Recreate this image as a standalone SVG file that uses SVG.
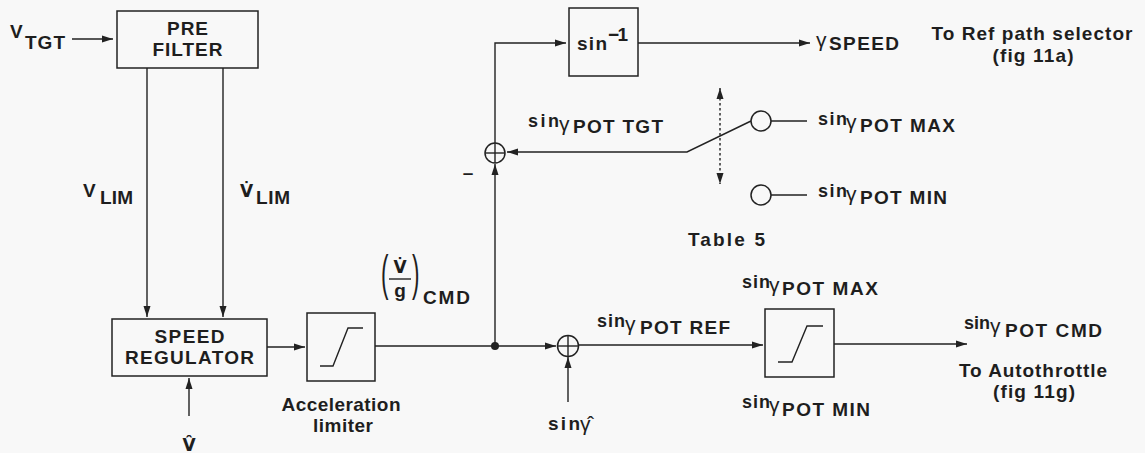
<svg xmlns="http://www.w3.org/2000/svg" width="1145" height="453" viewBox="0 0 1145 453">
<defs>
<style>
.t{font-family:"Liberation Sans",Arial,Helvetica,sans-serif;font-weight:bold;font-size:19px;fill:#1e1e1e}
.s{font-size:18px}
.n{font-family:"Liberation Sans",Arial,Helvetica,sans-serif;font-weight:normal;fill:#1e1e1e}
.d{font-family:"DejaVu Sans",sans-serif;font-weight:bold;font-size:17px;fill:#1e1e1e}
.gm{font-family:"Liberation Sans",Arial,sans-serif;font-weight:normal;font-size:21px;fill:#1e1e1e}
.m{text-anchor:middle}
.box{fill:none;stroke:#222;stroke-width:1.5}
.ln{fill:none;stroke:#222;stroke-width:1.4}
.arr{marker-end:url(#ah)}
.dot{stroke-dasharray:2.5 2.5}
</style>
<marker id="ah" markerWidth="12" markerHeight="8" refX="11" refY="4" orient="auto-start-reverse" markerUnits="userSpaceOnUse">
<path d="M0,0.5 L11,4 L0,7.5 z" fill="#222"/>
</marker>
</defs>
<rect x="0" y="0" width="1145" height="453" fill="#f8f8f8"/>

<g id="connectors">
<line class="ln arr" x1="72" y1="39" x2="113" y2="39"/>
<line class="ln arr" x1="147" y1="68" x2="147" y2="317"/>
<line class="ln arr" x1="223" y1="68" x2="223" y2="317"/>
<line class="ln arr" x1="189" y1="416" x2="189" y2="378"/>
<line class="ln arr" x1="267" y1="347" x2="305" y2="347"/>
<polyline class="ln" points="375,346 495,346"/>
<line class="ln arr" x1="495" y1="346" x2="556" y2="346"/>
<line class="ln arr" x1="495" y1="346" x2="495" y2="164"/>
<polyline class="ln arr" points="495,143 495,43 566,43"/>
<line class="ln arr" x1="638" y1="43" x2="810" y2="43"/>
<line class="ln arr" x1="568" y1="402" x2="568" y2="357"/>
<line class="ln arr" x1="578.5" y1="345" x2="763" y2="345"/>
<line class="ln arr" x1="834" y1="344" x2="967" y2="344"/>
<polyline class="ln arr" points="751,121 687,152 507,152"/>
<line class="ln" x1="771" y1="121" x2="807" y2="121"/>
<line class="ln" x1="771" y1="195" x2="807" y2="195"/>
<line class="ln dot" x1="720" y1="88" x2="720" y2="184" style="marker-start:url(#ah);marker-end:url(#ah)"/>
</g>

<g id="prefilter">
<rect class="box" x="117" y="11" width="141" height="57"/>
<text class="t m" x="187.5" y="35" textLength="41" lengthAdjust="spacing">PRE</text>
<text class="t m" x="187.5" y="56" textLength="70" lengthAdjust="spacing">FILTER</text>
</g>

<g id="speed-regulator">
<rect class="box" x="112" y="319" width="155" height="57"/>
<text class="t m" x="189.5" y="343" textLength="70" lengthAdjust="spacing">SPEED</text>
<text class="t m" x="189.5" y="364" textLength="129" lengthAdjust="spacing">REGULATOR</text>
</g>

<g id="acceleration-limiter">
<rect class="box" x="307" y="313" width="68" height="68"/>
<polyline class="ln" points="320,366 333,366 348,328 363,328"/>
<text class="t m" x="341" y="411" textLength="119" lengthAdjust="spacing">Acceleration</text>
<text class="t m" x="343" y="432" textLength="60" lengthAdjust="spacing">limiter</text>
</g>

<g id="junction">
<circle cx="495" cy="346" r="4" fill="#222"/>
</g>

<g id="sum-upper">
<circle class="box" cx="495" cy="153" r="10"/>
<line class="ln" x1="485" y1="153" x2="505" y2="153"/>
<line class="ln" x1="495" y1="143" x2="495" y2="163"/>
<text class="t m" x="468" y="179">–</text>
</g>

<g id="sum-lower">
<circle class="box" cx="568" cy="346" r="10.5"/>
<line class="ln" x1="557.5" y1="346" x2="578.5" y2="346"/>
<line class="ln" x1="568" y1="335.5" x2="568" y2="356.5"/>
</g>

<g id="arcsin">
<rect class="box" x="569" y="8" width="69" height="68"/>
<text class="t" x="577" y="50" textLength="30" lengthAdjust="spacing">sin</text>
<text class="t" x="608" y="41" font-size="17" textLength="20" lengthAdjust="spacing">−1</text>
</g>

<g id="pot-limiter">
<rect class="box" x="765" y="309" width="69" height="68"/>
<polyline class="ln" points="778,362 792,362 807,326 823,326"/>
</g>

<g id="selector-switch">
<circle class="box" cx="761" cy="121" r="10"/>
<circle class="box" cx="761" cy="195" r="10"/>
</g>

<g id="labels">
<text class="t" x="10" y="38" font-size="18">V</text>
<text class="t" x="25" y="49" textLength="40" lengthAdjust="spacing">TGT</text>

<text class="t" x="83" y="197" font-size="18">V</text>
<text class="t" x="100" y="204" textLength="33" lengthAdjust="spacing">LIM</text>

<text class="d" x="240" y="197" font-size="18">V&#x307;</text>
<text class="t" x="256" y="204" textLength="34" lengthAdjust="spacing">LIM</text>

<text class="n" transform="translate(381,290) scale(0.45,1)" font-size="50">(</text>
<text class="d m" x="400" y="273">V&#x307;</text>
<line class="ln" x1="389" y1="279" x2="411" y2="279" stroke-width="1.2"/>
<text class="t m" x="400" y="297" font-size="18">g</text>
<text class="n" transform="translate(412,290) scale(0.45,1)" font-size="50">)</text>
<text class="t" x="423" y="304" textLength="47" lengthAdjust="spacing">CMD</text>

<text class="d m" x="189" y="451" font-size="18">V&#x302;</text>

<text class="t" x="548" y="430" textLength="32" lengthAdjust="spacing">sin</text>
<text class="gm" x="580" y="431" font-size="22">γ&#x302;</text>

<text class="gm" x="816" y="47">γ</text>
<text class="t" x="829" y="50" textLength="70" lengthAdjust="spacing">SPEED</text>
<text class="t m" x="1032" y="40" textLength="201" lengthAdjust="spacing">To Ref path selector</text>
<text class="t m" x="1033" y="62" textLength="81" lengthAdjust="spacing">(fig 11a)</text>

<text class="t s" x="528" y="127" textLength="31" lengthAdjust="spacing">sin</text>
<text class="gm" x="559" y="131">γ</text>
<text class="t" x="573" y="133" textLength="90" lengthAdjust="spacing">POT TGT</text>

<text class="t s" x="818" y="125" textLength="29" lengthAdjust="spacing">sin</text>
<text class="gm" x="846" y="129">γ</text>
<text class="t" x="860" y="132" textLength="95" lengthAdjust="spacing">POT MAX</text>

<text class="t s" x="818" y="197" textLength="29" lengthAdjust="spacing">sin</text>
<text class="gm" x="846" y="201">γ</text>
<text class="t" x="860" y="204" textLength="87" lengthAdjust="spacing">POT MIN</text>

<text class="t" x="688" y="246" textLength="77" lengthAdjust="spacing">Table 5</text>

<text class="t s" x="597" y="327" textLength="28" lengthAdjust="spacing">sin</text>
<text class="gm" x="625" y="331">γ</text>
<text class="t" x="640" y="334" textLength="90" lengthAdjust="spacing">POT REF</text>

<text class="t s" x="742" y="288" textLength="28" lengthAdjust="spacing">sin</text>
<text class="gm" x="769" y="292">γ</text>
<text class="t" x="782" y="295" textLength="96" lengthAdjust="spacing">POT MAX</text>

<text class="t s" x="742" y="408" textLength="28" lengthAdjust="spacing">sin</text>
<text class="gm" x="769" y="412">γ</text>
<text class="t" x="782" y="416" textLength="88" lengthAdjust="spacing">POT MIN</text>

<text class="t s" x="964" y="329" textLength="26" lengthAdjust="spacing">sin</text>
<text class="gm" x="990" y="333">γ</text>
<text class="t" x="1005" y="337" textLength="97" lengthAdjust="spacing">POT CMD</text>
<text class="t m" x="1033" y="377" textLength="148" lengthAdjust="spacing">To Autothrottle</text>
<text class="t m" x="1034" y="398" textLength="82" lengthAdjust="spacing">(fig 11g)</text>
</g>
</svg>
